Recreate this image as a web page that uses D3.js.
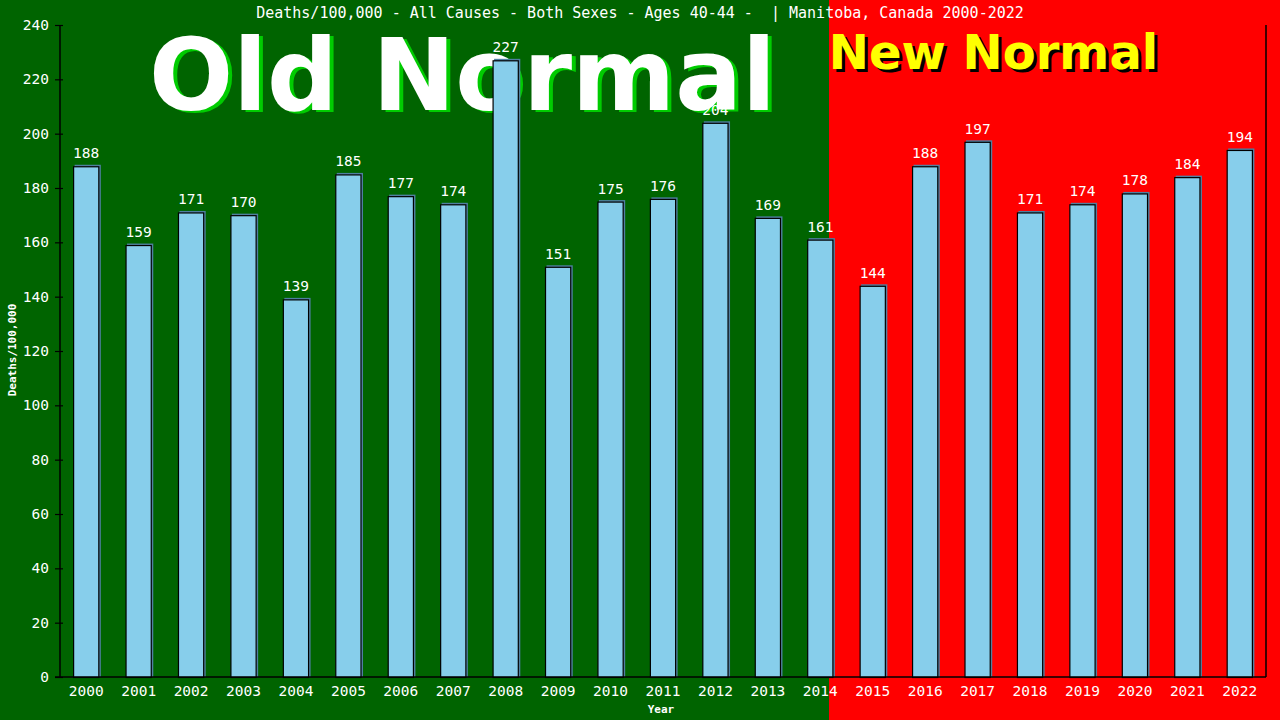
<!DOCTYPE html>
<html>
<head>
<meta charset="utf-8">
<script src="https://cdn.jsdelivr.net/npm/d3@7"></script>
<style>
  html, body { margin: 0; padding: 0; background: #006400; }
  svg { display: block; }
  text { font-family: "DejaVu Sans Mono", monospace; }
</style>
</head>
<body>
<svg id="chart" width="1280" height="720"></svg>
<script>
const years = ["2000","2001","2002","2003","2004","2005","2006","2007","2008","2009","2010","2011","2012","2013","2014","2015","2016","2017","2018","2019","2020","2021","2022"];
const deaths = [188,159,171,170,139,185,177,174,227,151,175,176,204,169,161,144,188,197,171,174,178,184,194];
const yTicks = [0,20,40,60,80,100,120,140,160,180,200,220,240];
const titleText = "Deaths/100,000 - All Causes - Both Sexes - Ages 40-44 -  | Manitoba, Canada 2000-2022";
const yLabel = "Deaths/100,000";
const xLabel = "Year";
const oldLabel = "Old Normal";
const newLabel = "New Normal";
const splitYear = "2014";

const W = 1280, H = 720;
const plot = {left: 60, right: 1266, top: 25, bottom: 677};
const svg = d3.select("#chart");

const x = d3.scaleBand().domain(years).range([plot.left, plot.right]).paddingInner(0.5).paddingOuter(0.25);
const y = d3.scaleLinear().domain([0, 240]).range([plot.bottom, plot.top]);

// background regions
const splitX = Math.round(x(splitYear) + x.bandwidth() * 0.85);
svg.append("rect").attr("x", 0).attr("y", 0).attr("width", splitX).attr("height", H).attr("fill", "#006400");
svg.append("rect").attr("x", splitX).attr("y", 0).attr("width", W - splitX).attr("height", H).attr("fill", "#ff0000");

// big labels
const oldCx = (150 + 775) / 2;
svg.append("text").attr("x", oldCx + 4).attr("y", 112).attr("text-anchor", "middle")
  .style("font-family", "'DejaVu Sans', Verdana, sans-serif").style("font-weight", "bold").style("font-size", "99px")
  .attr("fill", "#00cc00").text(oldLabel);
svg.append("text").attr("x", oldCx).attr("y", 110).attr("text-anchor", "middle")
  .style("font-family", "'DejaVu Sans', Verdana, sans-serif").style("font-weight", "bold").style("font-size", "99px")
  .attr("fill", "#ffffff").text(oldLabel);

const newCx = (830 + 1157) / 2;
svg.append("text").attr("x", newCx + 3).attr("y", 72).attr("text-anchor", "middle")
  .style("font-family", "'DejaVu Sans', Verdana, sans-serif").style("font-weight", "bold").style("font-size", "48px")
  .attr("fill", "#000000").text(newLabel);
svg.append("text").attr("x", newCx).attr("y", 69).attr("text-anchor", "middle")
  .style("font-family", "'DejaVu Sans', Verdana, sans-serif").style("font-weight", "bold").style("font-size", "48px")
  .attr("fill", "#ffff00").text(newLabel);

// title
svg.append("text").attr("x", 640).attr("y", 18).attr("text-anchor", "middle")
  .style("font-size", "15px").style("white-space", "pre").attr("xml:space", "preserve")
  .attr("fill", "#ffffff").text(titleText);

// bars
const g = svg.append("g");
g.selectAll("rect.shadow").data(deaths).enter().append("rect")
  .attr("class", "shadow")
  .attr("x", (d, i) => x(years[i]) + 1.5)
  .attr("y", d => y(d) - 1.5)
  .attr("width", x.bandwidth())
  .attr("height", d => plot.bottom - y(d) + 1.5)
  .attr("fill", "#4f7fa0");
g.selectAll("rect.bar").data(deaths).enter().append("rect")
  .attr("class", "bar")
  .attr("x", (d, i) => x(years[i]) + 0.5)
  .attr("y", d => y(d) + 0.5)
  .attr("width", x.bandwidth() - 1)
  .attr("height", d => plot.bottom - y(d))
  .attr("fill", "#87ceeb")
  .attr("stroke", "#000000")
  .attr("stroke-width", 1.2);

// value labels
g.selectAll("text.val").data(deaths).enter().append("text")
  .attr("class", "val")
  .attr("x", (d, i) => x(years[i]) + x.bandwidth() / 2)
  .attr("y", d => y(d) - 8)
  .attr("text-anchor", "middle")
  .style("font-size", "14.5px")
  .attr("fill", "#ffffff")
  .text(d => d);

// y axis
const yAxis = svg.append("g").attr("transform", `translate(${plot.left},0)`)
  .call(d3.axisLeft(y).tickValues(yTicks).tickSize(5).tickPadding(6));
yAxis.select(".domain").remove();
yAxis.selectAll(".tick line").attr("x1", 3).attr("stroke", "#000").attr("stroke-width", 1.2);
yAxis.selectAll(".tick text").attr("fill", "#ffffff").style("font-size", "14.5px")
  .style("font-family", "'DejaVu Sans Mono', monospace");
svg.append("line").attr("x1", plot.left).attr("x2", plot.left).attr("y1", plot.top).attr("y2", plot.bottom)
  .attr("stroke", "#000").attr("stroke-width", 1.5);
svg.append("line").attr("x1", plot.right).attr("x2", plot.right).attr("y1", plot.top).attr("y2", plot.bottom)
  .attr("stroke", "#000").attr("stroke-width", 1.5);

// x axis
const xAxis = svg.append("g").attr("transform", `translate(0,${plot.bottom})`)
  .call(d3.axisBottom(x).tickSize(0).tickPadding(9));
xAxis.select(".domain").remove();
xAxis.selectAll(".tick text").attr("fill", "#ffffff").style("font-size", "14.5px")
  .style("font-family", "'DejaVu Sans Mono', monospace");
svg.append("line").attr("x1", 55).attr("x2", plot.right).attr("y1", plot.bottom).attr("y2", plot.bottom)
  .attr("stroke", "#000").attr("stroke-width", 1.5);

// axis titles
svg.append("text").attr("x", 661).attr("y", 713).attr("text-anchor", "middle")
  .style("font-size", "11px").style("font-weight", "bold").attr("fill", "#ffffff").text(xLabel);
svg.append("text").attr("transform", "translate(16,350) rotate(-90)").attr("text-anchor", "middle")
  .style("font-size", "11px").style("font-weight", "bold").attr("fill", "#ffffff").text(yLabel);
</script>
</body>
</html>
